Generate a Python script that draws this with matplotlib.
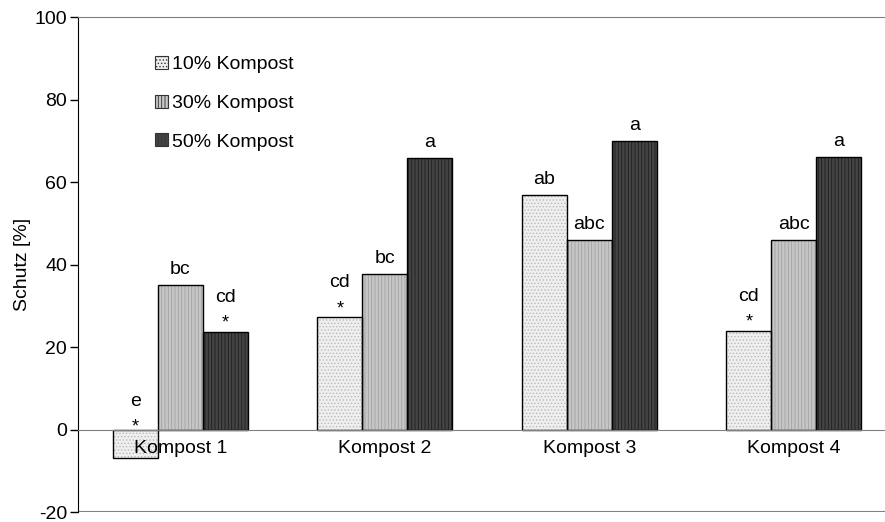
import matplotlib
matplotlib.use("Agg")
import matplotlib.pyplot as plt
import numpy as np

plt.rcParams['font.family'] = ['Liberation Sans', 'DejaVu Sans']
plt.rcParams['font.size'] = 14
plt.rcParams['axes.unicode_minus'] = False
plt.rcParams['hatch.linewidth'] = 0.6

categories = ['Kompost 1', 'Kompost 2', 'Kompost 3', 'Kompost 4']
series = ['10% Kompost', '30% Kompost', '50% Kompost']
k10 = [-6.8, 27.3, 57.0, 24.0]
k30 = [35.2, 37.7, 46.0, 46.0]
k50 = [23.8, 65.9, 70.0, 66.1]
letters10 = ['e', 'cd', 'ab', 'cd']
letters30 = ['bc', 'bc', 'abc', 'abc']
letters50 = ['cd', 'a', 'a', 'a']
star10 = [True, True, False, True]
star30 = [False, False, False, False]
star50 = [True, False, False, False]

faces = ['#efefef', '#c6c6c6', '#444444']
hatchcolors = ['#b8b8b8', '#a2a2a2', '#1e1e1e']
hatches = ['.....', '|||||', '|||||']

fig = plt.figure(figsize=(8.85, 5.22), dpi=100)
ax = fig.add_axes([78 / 885, 9.7 / 522, 807 / 885, 495 / 522])

x = np.arange(len(categories))
width = 0.22
data = [k10, k30, k50]
letters = [letters10, letters30, letters50]
stars = [star10, star30, star50]

handles = []
for i in range(3):
    xs = x + (i - 1) * width
    ax.bar(xs, data[i], width, color=faces[i], edgecolor=hatchcolors[i],
           hatch=hatches[i], linewidth=0, zorder=2)
    ax.bar(xs, data[i], width, fill=False, edgecolor='black',
           linewidth=1.0, zorder=3)
    h = plt.Rectangle((0, 0), 1, 1, facecolor=faces[i], edgecolor='#333333',
                      hatch=hatches[i], linewidth=0.8)
    handles.append(h)
    for xi, v, lab, st in zip(xs, data[i], letters[i], stars[i]):
        base = max(v, 0)
        # negative bars: labels sit a little lower, just above the zero line
        shift = -6 if v < 0 else 0
        if st:
            ax.annotate('*', (xi, base), xytext=(0, 4 + shift), textcoords='offset pixels',
                        ha='center', va='baseline', fontsize=13)
            ax.annotate(lab, (xi, base), xytext=(0, 30 + shift), textcoords='offset pixels',
                        ha='center', va='baseline', fontsize=14)
        else:
            ax.annotate(lab, (xi, base), xytext=(0, 11), textcoords='offset pixels',
                        ha='center', va='baseline', fontsize=14)

ax.set_xlim(-0.5, -0.5 + 807 / 204.5)
ax.set_ylim(-20, 100)
ax.set_yticks(np.arange(-20, 101, 20))
ax.set_xticks(x)
ax.set_xticklabels(categories)
ax.tick_params(axis='x', length=0, pad=7)
ax.tick_params(axis='y', length=6, width=1, pad=2, direction='out')
ax.set_ylabel('Schutz [%]', labelpad=2)
ax.xaxis.set_zorder(5)

ax.spines['right'].set_visible(False)
ax.spines['bottom'].set_position(('data', 0))
ax.spines['bottom'].set_color('#808080')
ax.spines['bottom'].set_zorder(4)
ax.spines['top'].set_color('#808080')
ax.spines['left'].set_color('black')
ax.axhline(-20, color='#808080', linewidth=1.5, zorder=1)

ax.legend(handles, series, loc='upper left', bbox_to_anchor=(155 / 885, 1 - 56 / 522),
          bbox_transform=fig.transFigure, frameon=False, handlelength=0.65,
          handleheight=0.65, handletextpad=0.25, labelspacing=1.1, borderpad=0,
          borderaxespad=0)

fig.savefig('out.png', dpi=100)
